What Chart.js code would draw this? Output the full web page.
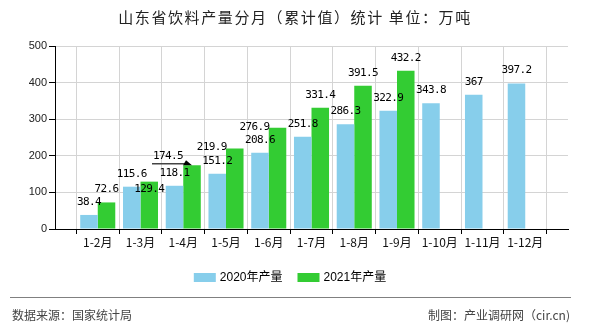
<!DOCTYPE html>
<html>
<head>
<meta charset="utf-8">
<script src="https://cdn.jsdelivr.net/npm/chart.js@4"></script>
<style>
	body { margin: 0; background: #fff; }
	#wrap { position: relative; width: 590px; height: 330px; overflow: hidden; }
	#chart { position: absolute; left: 0; top: 0; }
	.title { position: absolute; left: 0; top: 8px; width: 590px; text-align: center; font: 15px "Noto Sans CJK SC", sans-serif; letter-spacing: 1.6px; line-height: 18px; color: #222; }
	.rule { position: absolute; left: 10px; top: 297px; width: 561px; height: 1px; background: #808080; }
	.foot { position: absolute; top: 307px; font: 12px "Noto Sans CJK SC", sans-serif; line-height: 16px; color: #444; }
</style>
</head>
<body>
<div id="wrap">
	<canvas id="chart" width="590" height="330"></canvas>
	<div class="title">山东省饮料产量分月（累计值）统计 单位：万吨</div>
	<div class="rule"></div>
	<div class="foot" style="left:12px">数据来源：国家统计局</div>
	<div class="foot" style="right:20px">制图：产业调研网（cir.cn)</div>
</div>
<script>
const months = ['1-2月','1-3月','1-4月','1-5月','1-6月','1-7月','1-8月','1-9月','1-10月','1-11月','1-12月'];
const output2020 = [38.4, 115.6, 118.1, 151.2, 208.6, 251.8, 286.3, 322.9, 343.8, 367, 397.2];
const output2021 = [72.6, 129.4, 174.5, 219.9, 276.9, 331.4, 391.5, 432.2];
const seriesNames = ['2020年产量', '2021年产量'];
const seriesColors = ['#87ceeb', '#33cc33'];
const yMax = 500;
const yStep = 100;

// label nudges "dataset-month": [dx, dy], the original moved some labels to avoid overlap
const labelNudge = { '1-1': [0, 21], '1-2': [-24, 4], '1-3': [-23, 12], '1-4': [-23, 12] };

// blank slot at both ends so the month groups sit on the grid lines
const labels = [''].concat(months, ['']);
function pad(arr){
	let out = [null].concat(arr);
	while(out.length < labels.length) out.push(null);
	return out;
}

const valueLabels = {
	id: 'valueLabels',
	afterDatasetsDraw(chart){
		const ctx = chart.ctx;
		ctx.save();
		ctx.font = '11px "DejaVu Sans Mono", monospace';
		ctx.letterSpacing = '-0.6px';
		ctx.fillStyle = '#000';
		ctx.textAlign = 'center';
		ctx.textBaseline = 'middle';
		chart.data.datasets.forEach((ds, di) => {
			chart.getDatasetMeta(di).data.forEach((bar, i) => {
				let v = ds.data[i];
				if(v == null) return;
				let n = labelNudge[di + '-' + (i - 1)] || [0, 0];
				let x = bar.x + n[0];
				let y = bar.y - 13 + n[1];
				ctx.fillText(String(v), x, y);
				if(di == 1 && i - 1 == 2){
					ctx.strokeStyle = '#444';
					ctx.lineWidth = 1.5;
					ctx.beginPath();
					ctx.moveTo(x - 16, y + 7.5);
					ctx.lineTo(x + 17, y + 7.5);
					ctx.stroke();
					ctx.beginPath();
					ctx.moveTo(x + 18, y + 4);
					ctx.lineTo(x + 24, y + 9);
					ctx.lineTo(x + 15, y + 9);
					ctx.closePath();
					ctx.fill();
				}
			});
		});
		ctx.restore();
	}
};

const bottomLegend = {
	id: 'bottomLegend',
	afterDraw(chart){
		const ctx = chart.ctx;
		ctx.save();
		ctx.font = '12px "Liberation Sans", "Noto Sans CJK SC", sans-serif';
		ctx.textBaseline = 'middle';
		ctx.fillStyle = '#000';
		let boxW = 22, boxH = 9, gap = 4, between = 15;
		let items = chart.data.datasets.map(ds => ({ text: ds.label, color: ds.backgroundColor, w: ctx.measureText(ds.label).width }));
		let total = items.reduce((s, it) => s + boxW + gap + it.w, 0) + between * (items.length - 1);
		let x = chart.width / 2 - 5 - total / 2;
		let y = 277.5;
		items.forEach(it => {
			ctx.fillStyle = it.color;
			ctx.fillRect(x, y - boxH / 2, boxW, boxH);
			ctx.fillStyle = '#000';
			ctx.fillText(it.text, x + boxW + gap, y);
			x += boxW + gap + it.w + between;
		});
		ctx.restore();
	}
};

new Chart(document.getElementById('chart').getContext('2d'), {
	type: 'bar',
	data: {
		labels,
		datasets: [
			{ label: seriesNames[0], data: pad(output2020), backgroundColor: seriesColors[0], barPercentage: 1, categoryPercentage: 0.82 },
			{ label: seriesNames[1], data: pad(output2021), backgroundColor: seriesColors[1], barPercentage: 1, categoryPercentage: 0.82 },
		],
	},
	options: {
		responsive: false,
		animation: false,
		devicePixelRatio: 1,
		layout: { padding: { top: 46, right: 22, left: 0, bottom: 0 } },
		plugins: {
			legend: { display: false },
			tooltip: { enabled: false },
			title: { display: false },
		},
		scales: {
			x: {
				offset: false,
				grid: { color: '#d4d4d4', tickColor: '#000', tickLength: 5 },
				border: { color: '#000' },
				ticks: {
					autoSkip: false, maxRotation: 0, padding: 1, color: '#111',
					font: { size: 12, family: '"Noto Sans CJK SC", sans-serif' },
				},
				afterFit: s => { s.height = 101; },
			},
			y: {
				min: 0,
				max: yMax,
				grid: { color: '#d4d4d4', tickColor: '#000', tickLength: 6 },
				border: { color: '#000' },
				ticks: {
					stepSize: yStep, padding: 2, color: '#222',
					font: { size: 11, family: '"Liberation Sans", Arial, sans-serif' },
				},
				afterFit: s => { s.width = 55; },
			},
		},
	},
	plugins: [valueLabels, bottomLegend],
});
</script>
</body>
</html>
